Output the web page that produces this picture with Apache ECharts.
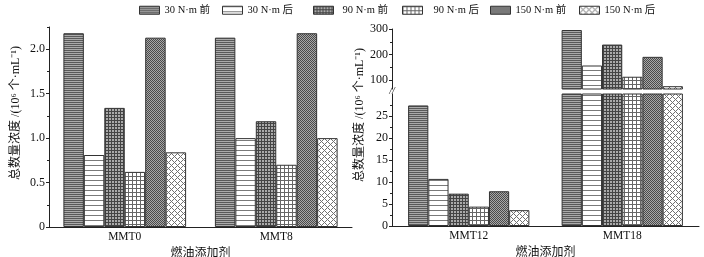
<!DOCTYPE html>
<html>
<head>
  <meta charset="utf-8">
  <title>ECharts</title>
  <script src="https://cdn.jsdelivr.net/npm/echarts@6.0.0/dist/echarts.min.js"></script>
</head>
<body style="margin:0">
  <div id="main" style="width:704px;height:257px;"></div>
  <script type="text/javascript">
    // 数据
    var seriesNames = ['30 N·m 前', '30 N·m 后', '90 N·m 前', '90 N·m 后', '150 N·m 前', '150 N·m 后'];
    var leftCats = ['MMT0', 'MMT8'];
    var rightCats = ['MMT12', 'MMT18'];
    // each row: one series, [MMT0, MMT8]
    var leftVals = [
      [2.18, 2.13],
      [0.81, 1.00],
      [1.34, 1.19],
      [0.62, 0.70],
      [2.13, 2.18],
      [0.84, 1.00]
    ];
    // each row: one series, [MMT12, MMT18]
    var rightVals = [
      [27.4, 296],
      [10.7, 157],
      [7.35, 239],
      [4.4, 113],
      [7.9, 191],
      [3.6, 76]
    ];
    var leftTicks = [0, 0.5, 1.0, 1.5, 2.0];
    var leftMinor = [0.25, 0.75, 1.25, 1.75, 2.25];
    var lowTicks = [0, 5, 10, 15, 20, 25];
    var lowMinor = [2.5, 7.5, 12.5, 17.5, 22.5, 27.5];
    var upTicks = [100, 200, 300];
    var upMinor = [150, 250];
    var upMin = 65;
    var yName = '总数量浓度 /(10⁶ 个·mL⁻¹)';
    var xName = '燃油添加剂';

    var serif = '"Liberation Serif", "Noto Sans CJK SC", serif';

    // 填充图案
    function makePattern(size, bg, draw) {
      var c = document.createElement('canvas');
      c.width = size; c.height = size;
      var ctx = c.getContext('2d');
      ctx.fillStyle = bg;
      ctx.fillRect(0, 0, size, size);
      draw(ctx, size);
      return { image: c, repeat: 'repeat' };
    }
    function px(ctx, x, y, col) { ctx.fillStyle = col; ctx.fillRect(x, y, 1, 1); }

    var patterns = [
      makePattern(2, '#ababab', function (ctx, s) { for (var x = 0; x < s; x++) px(ctx, x, 0, '#5a5a5a'); }),
      makePattern(5, '#ffffff', function (ctx, s) { for (var x = 0; x < s; x++) px(ctx, x, 0, '#7a7a7a'); }),
      makePattern(3, '#aaaaaa', function (ctx, s) { for (var i = 0; i < s; i++) { px(ctx, i, 0, '#444'); px(ctx, 0, i, '#444'); } }),
      makePattern(4, '#ffffff', function (ctx, s) { for (var i = 0; i < s; i++) { px(ctx, i, 0, '#666'); px(ctx, 0, i, '#666'); } }),
      makePattern(2, '#a8a8a8', function (ctx, s) { px(ctx, 0, 0, '#4a4a4a'); px(ctx, 1, 1, '#4a4a4a'); }),
      makePattern(6, '#ffffff', function (ctx, s) { for (var i = 0; i < s; i++) { px(ctx, i, i, '#707070'); px(ctx, i, (s - i) % s, '#707070'); } })
    ];

    var myChart = echarts.init(document.getElementById('main'));

    function mainY(grid, min, max, ticks, fmt) {
      return {
        type: 'value', gridIndex: grid, position: 'left', min: min, max: max,
        axisLine: { show: true, lineStyle: { color: '#222', width: 1 } },
        axisTick: { show: true, length: 3, customValues: ticks, lineStyle: { color: '#222' } },
        axisLabel: { customValues: ticks, margin: 4, color: '#111', fontSize: 12, fontFamily: serif, formatter: fmt },
        splitLine: { show: false }
      };
    }
    function minorY(grid, min, max, ticks) {
      return {
        type: 'value', gridIndex: grid, position: 'left', min: min, max: max,
        axisLine: { show: false },
        axisTick: { show: true, length: 2, customValues: ticks, lineStyle: { color: '#222' } },
        axisLabel: { show: false },
        splitLine: { show: false }
      };
    }
    function catX(grid, cats, visible) {
      return {
        type: 'category', gridIndex: grid, data: cats, show: visible,
        axisLine: { onZero: false, lineStyle: { color: '#222', width: 1 } },
        axisTick: { show: false },
        axisLabel: { margin: 4, color: '#111', fontSize: 11.5, fontFamily: serif },
        name: xName, nameLocation: 'middle', nameGap: 16,
        nameTextStyle: { color: '#111', fontSize: 12, fontFamily: serif }
      };
    }

    var series = [];
    seriesNames.forEach(function (name, i) {
      var style = { color: patterns[i], borderColor: '#333', borderWidth: 1 };
      series.push({ name: name, type: 'bar', xAxisIndex: 0, yAxisIndex: 0, barGap: '0%', barCategoryGap: '19%', itemStyle: style, data: leftVals[i] });
      series.push({ name: name, type: 'bar', xAxisIndex: 1, yAxisIndex: 2, barGap: '0%', barCategoryGap: '21%', clip: true, itemStyle: style, data: rightVals[i] });
      series.push({ name: name, type: 'bar', xAxisIndex: 2, yAxisIndex: 4, barGap: '0%', barCategoryGap: '21%', itemStyle: style,
        data: rightVals[i].map(function (v) { return v > upMin ? v : '-'; }) });
    });

    // 图例位置
    var legendLeft = [139, 222, 313, 402, 490, 579];
    var legendPad = [0, 0, 4, 6, 0, 0];
    var legends = seriesNames.map(function (name, i) {
      return {
        data: [name], left: legendLeft[i], top: 5, padding: 0,
        itemWidth: 20, itemHeight: 8, icon: 'rect', selectedMode: false,
        itemStyle: { borderColor: '#333', borderWidth: 1 },
        textStyle: { color: '#111', fontSize: 10.5, fontFamily: serif, padding: [0, 0, 0, legendPad[i]] }
      };
    });

    var option = {
      animation: false,
      legend: legends,
      grid: [
        { left: 49, top: 27, right: 352, bottom: 30, outerBoundsMode: 'none', containLabel: false },
        { left: 392, top: 29, right: 5, height: 60, outerBoundsMode: 'none', containLabel: false },
        { left: 392, top: 94, right: 5, bottom: 31, outerBoundsMode: 'none', containLabel: false }
      ],
      xAxis: [catX(0, leftCats, true), catX(2, rightCats, true), catX(1, rightCats, false)],
      yAxis: [
        mainY(0, 0, 2.25, leftTicks, function (v) { return v === 0 ? '0' : v.toFixed(1); }),
        minorY(0, 0, 2.25, leftMinor),
        mainY(2, 0, 30, lowTicks, function (v) { return String(v); }),
        minorY(2, 0, 30, lowMinor),
        mainY(1, upMin, 300, upTicks, function (v) { return String(v); }),
        minorY(1, upMin, 300, upMinor)
      ],
      graphic: [
        { type: 'text', x: 16, y: 113, rotation: Math.PI / 2,
          style: { text: yName, font: '12px ' + serif, fill: '#111', align: 'center', verticalAlign: 'middle', textAlign: 'center', textVerticalAlign: 'middle' } },
        { type: 'text', x: 360, y: 115, rotation: Math.PI / 2,
          style: { text: yName, font: '12px ' + serif, fill: '#111', align: 'center', verticalAlign: 'middle', textAlign: 'center', textVerticalAlign: 'middle' } },
        { type: 'text', x: 392, y: 91,
          style: { text: '//', font: 'italic 10px ' + serif, fill: '#111', align: 'center', verticalAlign: 'middle', textAlign: 'center', textVerticalAlign: 'middle' } }
      ],
      series: series
    };

    myChart.setOption(option);
  </script>
</body>
</html>
